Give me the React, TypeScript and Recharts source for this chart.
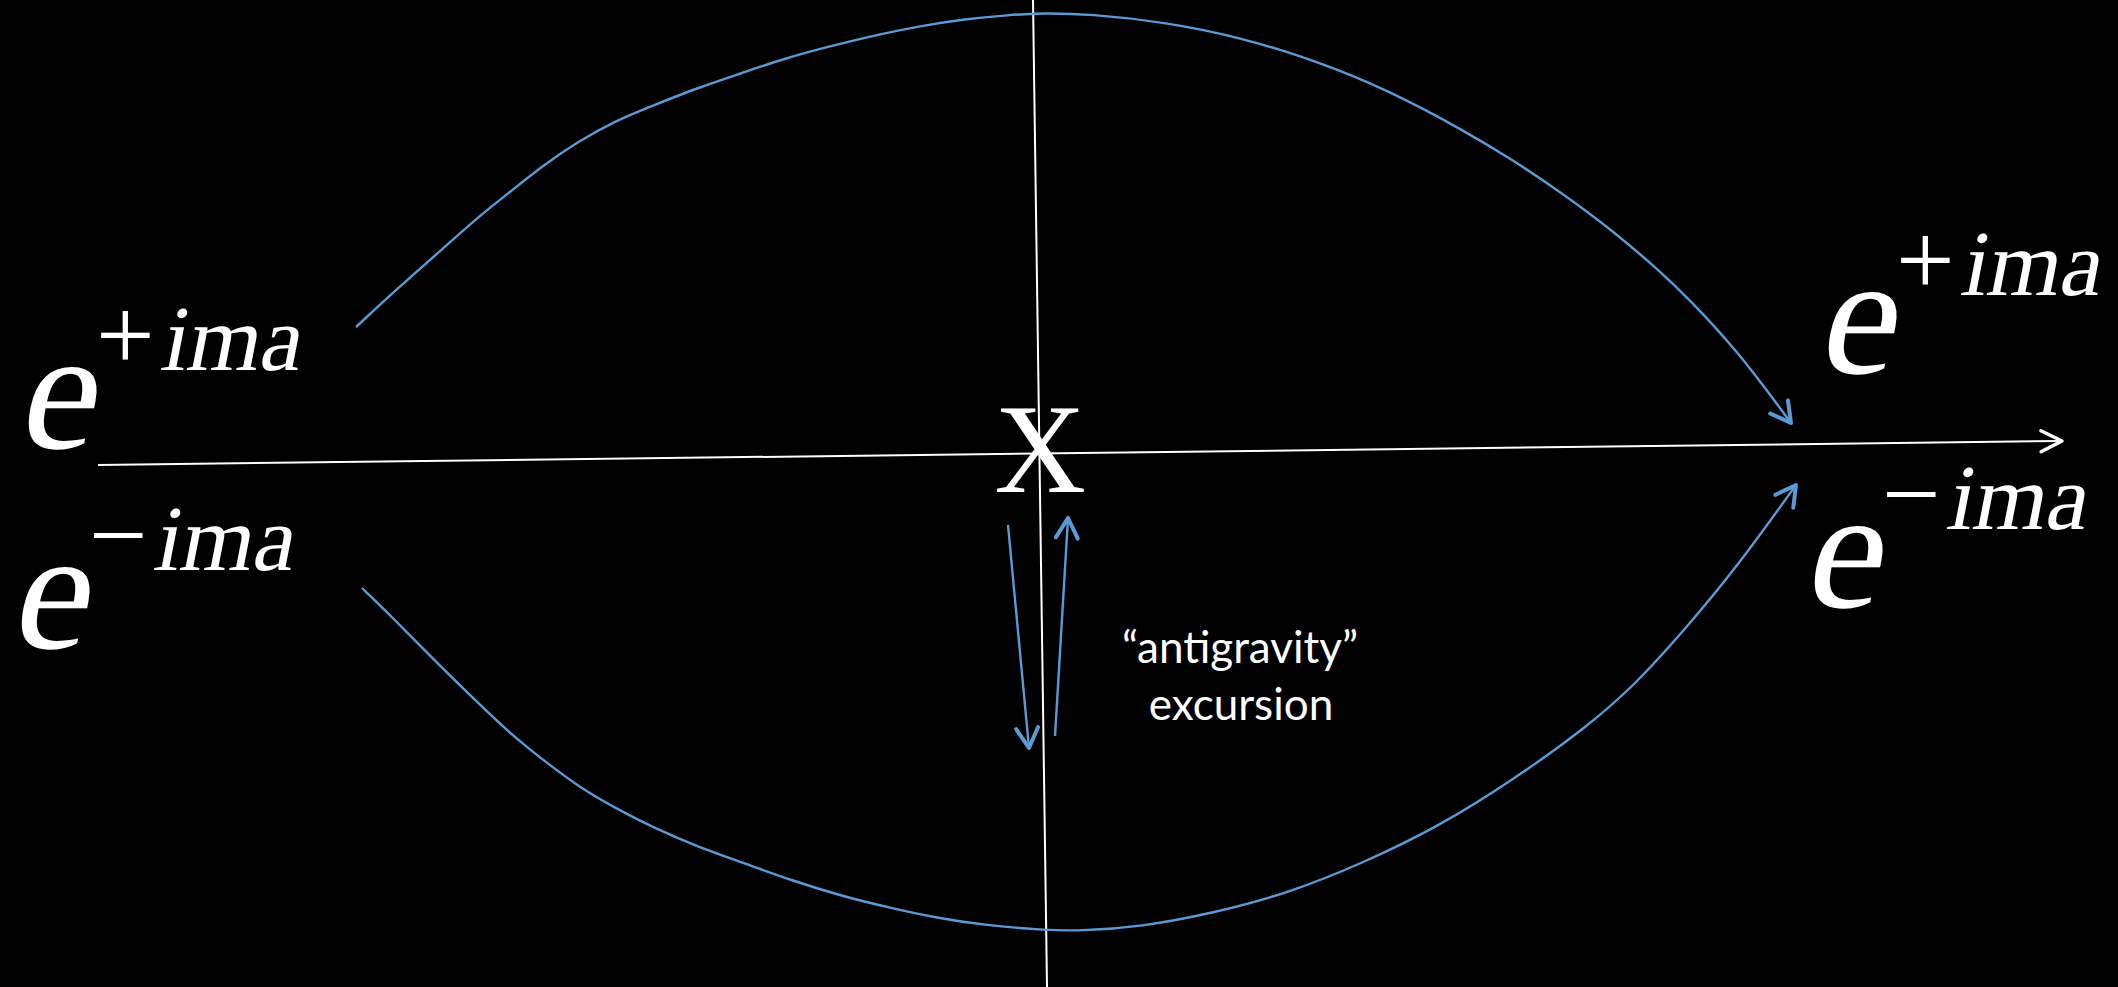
import { ComposedChart, Line, Scatter, XAxis, YAxis } from 'recharts';

// diagram space: x 0..2118, y 0..987 (y grows downward)
const upperPath = [
  { x: 356, y: 327 }, { x: 398, y: 288 }, { x: 438, y: 253 }, { x: 478, y: 217 },
  { x: 510, y: 192 }, { x: 541, y: 167 }, { x: 577, y: 142 }, { x: 617, y: 120 },
  { x: 652, y: 106 }, { x: 697, y: 88 }, { x: 742, y: 73 }, { x: 786, y: 58 },
  { x: 831, y: 46 }, { x: 876, y: 35 }, { x: 920, y: 26 }, { x: 965, y: 19 },
  { x: 1010, y: 15 }, { x: 1040, y: 13 }, { x: 1090, y: 14 }, { x: 1164, y: 22 },
  { x: 1239, y: 37 }, { x: 1314, y: 60 }, { x: 1388, y: 90 }, { x: 1463, y: 130 },
  { x: 1513, y: 160 }, { x: 1562, y: 193 }, { x: 1612, y: 230 }, { x: 1662, y: 273 },
  { x: 1687, y: 297 }, { x: 1737, y: 350 }, { x: 1791, y: 423 },
];

const lowerPath = [
  { x: 362, y: 588 }, { x: 395, y: 620 }, { x: 432, y: 658 }, { x: 478, y: 703 },
  { x: 514, y: 737 }, { x: 547, y: 763 }, { x: 579, y: 787 }, { x: 615, y: 808 },
  { x: 652, y: 827 }, { x: 698, y: 847 }, { x: 744, y: 863 }, { x: 790, y: 880 },
  { x: 845, y: 897 }, { x: 891, y: 908 }, { x: 937, y: 918 }, { x: 983, y: 925 },
  { x: 1042, y: 930 }, { x: 1080, y: 931 }, { x: 1140, y: 927 }, { x: 1214, y: 913 },
  { x: 1289, y: 893 }, { x: 1363, y: 863 }, { x: 1438, y: 827 }, { x: 1513, y: 780 },
  { x: 1587, y: 727 }, { x: 1637, y: 683 }, { x: 1687, y: 627 }, { x: 1737, y: 567 },
  { x: 1796, y: 485 },
];

const horizontalAxis = [{ x: 98, y: 465 }, { x: 2062, y: 441 }];
const verticalAxis = [{ x: 1033, y: 0 }, { x: 1047, y: 987 }];

const excursionDown = [{ x: 1008, y: 525 }, { x: 1029, y: 748 }];
const excursionUp = [{ x: 1055, y: 736 }, { x: 1068, y: 518 }];

// anchor = left edge / baseline of the large "e"
const expLabels = [
  { x: 22, y: 448, sign: '+' },
  { x: 15, y: 648, sign: '−' },
  { x: 1822, y: 373, sign: '+' },
  { x: 1808, y: 607, sign: '−' },
];

const crossLabel = [{ x: 1040, y: 492, text: 'X' }];

const noteLines = [
  { x: 1240, y: 663, text: '“antigravity”' },
  { x: 1241, y: 720, text: 'excursion' },
];

const BLUE = '#5B9BD5';
const SERIF = '"Liberation Serif", serif';

// slanted serif text (the italic face is not available, so shear the roman one)
function Slanted({ x, y, size, children }: { x: number; y: number; size: number; children: string }) {
  return (
    <text transform={`translate(${x},${y}) skewX(-11)`} fill="#fff"
      style={{ fontFamily: SERIF, fontSize: size }}>
      {children}
    </text>
  );
}

function ExpLabel(props: any) {
  const { cx, cy, payload } = props;
  return (
    <g>
      <Slanted x={cx - 6} y={cy} size={172}>e</Slanted>
      <text x={cx + 74} y={cy - 78} fill="#fff" style={{ fontFamily: SERIF, fontSize: 104 }}>{payload.sign}</text>
      <Slanted x={cx + 137} y={cy - 78} size={93}>ima</Slanted>
    </g>
  );
}

function CrossLabel(props: any) {
  const { cx, cy, payload } = props;
  return (
    <text x={cx} y={cy} fill="#fff" textAnchor="middle" style={{ fontFamily: SERIF, fontSize: 127 }}>
      {payload.text}
    </text>
  );
}

function NoteLabel(props: any) {
  const { cx, cy, payload } = props;
  return (
    <text x={cx} y={cy} fill="#fff" textAnchor="middle" style={{ fontFamily: 'Lato, sans-serif', fontSize: 44 }}>
      {payload.text}
    </text>
  );
}

export default function App() {
  return (
    <div style={{ position: 'absolute', left: 0, top: 0, width: 2118, height: 987, background: '#000' }}>
      <ComposedChart width={2118} height={987} margin={{ top: 0, right: 0, bottom: 0, left: 0 }}>
        <defs>
          <marker id="head-blue" viewBox="-26 -16 32 32" refX={0} refY={0} markerWidth={32} markerHeight={32}
            orient="auto" markerUnits="userSpaceOnUse">
            <path d="M-20,-11 L0,0 L-20,11" fill="none" stroke={BLUE} strokeWidth={4}
              strokeLinecap="round" strokeLinejoin="round" />
          </marker>
          <marker id="head-white" viewBox="-26 -16 32 32" refX={0} refY={0} markerWidth={32} markerHeight={32}
            orient="auto" markerUnits="userSpaceOnUse">
            <path d="M-21,-10.5 L0,0 L-21,10.5" fill="none" stroke="#fff" strokeWidth={3.5}
              strokeLinecap="round" strokeLinejoin="round" />
          </marker>
        </defs>
        <XAxis type="number" dataKey="x" domain={[0, 2118]} hide allowDataOverflow />
        <YAxis type="number" dataKey="y" domain={[0, 987]} reversed hide allowDataOverflow />

        <Line data={verticalAxis} dataKey="y" type="linear" stroke="#fff" strokeWidth={2}
          dot={false} activeDot={false} isAnimationActive={false} />
        <Line data={horizontalAxis} dataKey="y" type="linear" stroke="#fff" strokeWidth={2}
          dot={false} activeDot={false} isAnimationActive={false} markerEnd="url(#head-white)" />
        <Line data={upperPath} dataKey="y" type="basis" stroke={BLUE} strokeWidth={2.4}
          dot={false} activeDot={false} isAnimationActive={false} markerEnd="url(#head-blue)" />
        <Line data={lowerPath} dataKey="y" type="basis" stroke={BLUE} strokeWidth={2.4}
          dot={false} activeDot={false} isAnimationActive={false} markerEnd="url(#head-blue)" />
        <Line data={excursionDown} dataKey="y" type="linear" stroke={BLUE} strokeWidth={2.4}
          dot={false} activeDot={false} isAnimationActive={false} markerEnd="url(#head-blue)" />
        <Line data={excursionUp} dataKey="y" type="linear" stroke={BLUE} strokeWidth={2.4}
          dot={false} activeDot={false} isAnimationActive={false} markerEnd="url(#head-blue)" />

        <Scatter data={expLabels} dataKey="y" shape={ExpLabel} isAnimationActive={false} />
        <Scatter data={crossLabel} dataKey="y" shape={CrossLabel} isAnimationActive={false} />
        <Scatter data={noteLines} dataKey="y" shape={NoteLabel} isAnimationActive={false} />
      </ComposedChart>
    </div>
  );
}
